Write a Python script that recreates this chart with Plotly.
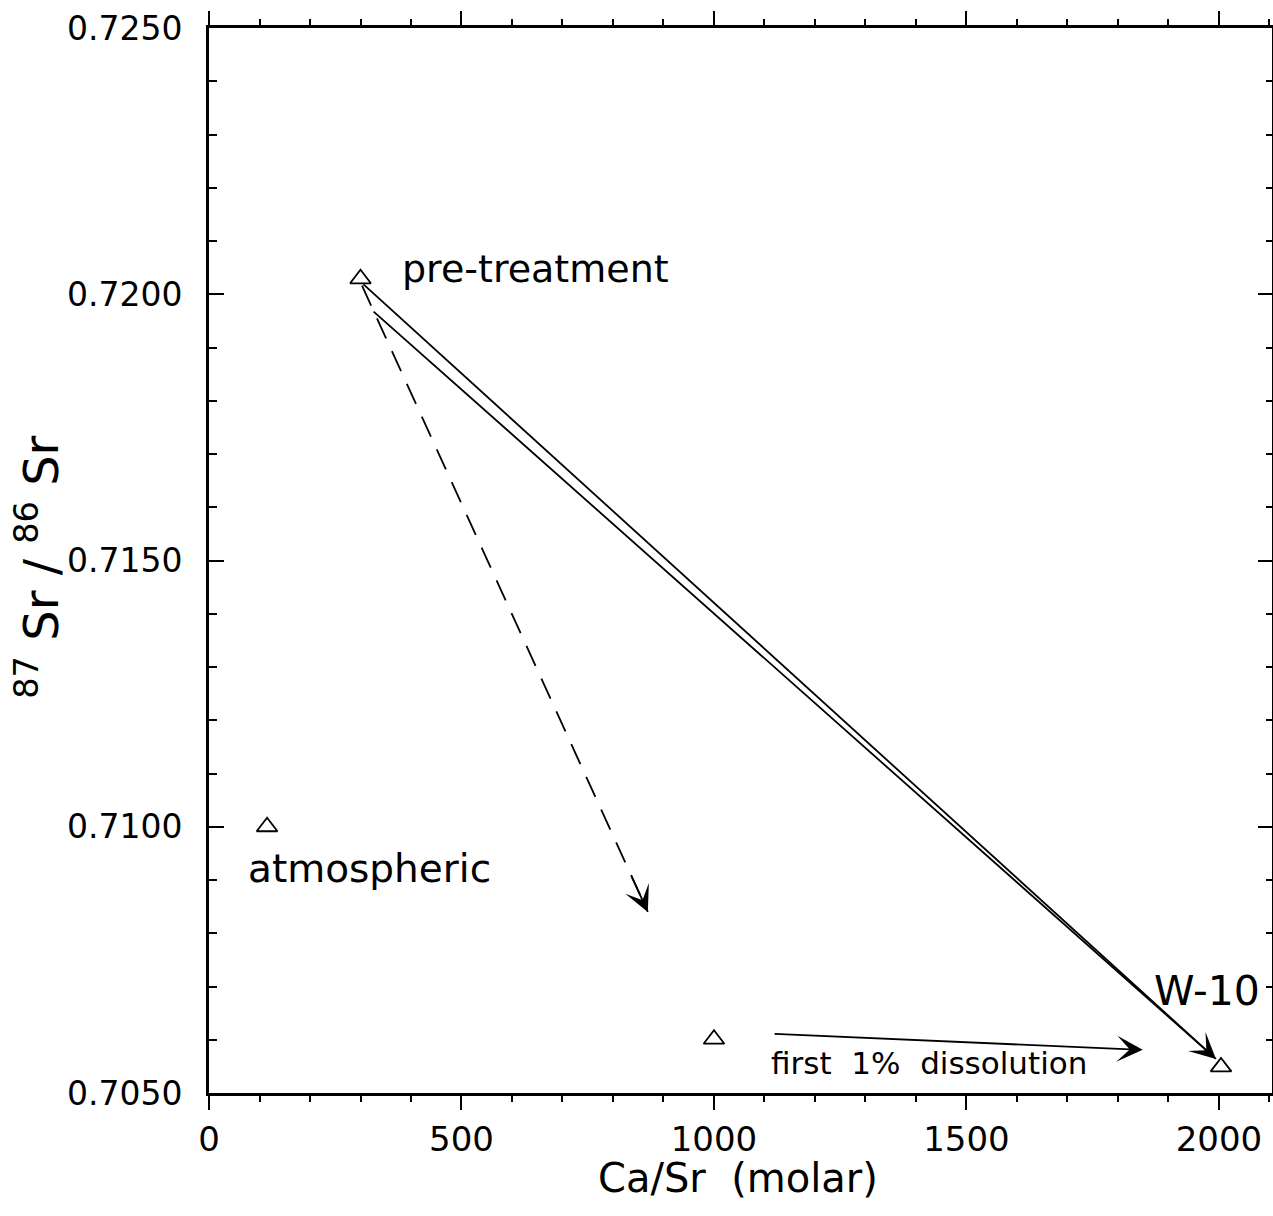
import plotly.graph_objects as go

# ---- data ----
point_names = ["pre-treatment", "atmospheric", "mid", "W-10"]
point_x = [300, 115, 1000, 2004]
point_y = [0.72029, 0.71000, 0.70601, 0.70549]

# solid arrows pre-treatment -> W-10 (start x, start y, end x, end y)
solid_start_x = [303, 323]
solid_start_y = [0.72021, 0.71970]
solid_end_x = [1994, 1994]
solid_end_y = [0.70564, 0.70564]
solid_head = [True, False]

# dashed arrow
dash_x = [303, 869]
dash_y = [0.72016, 0.70840]

# horizontal "first 1% dissolution" arrow
horiz_start = (1117, 0.70611)
horiz_end = (1849, 0.70581)

labels = ["pre-treatment", "atmospheric", "W-10", "first\u00a0\u00a01%\u00a0\u00a0dissolution"]
label_x = [379, 73, 1867, 1109]
label_y = [0.72047, 0.70921, 0.70692, 0.70556]
label_size = [38, 39, 41, 31]

x_ticks = [0, 500, 1000, 1500, 2000]
y_ticks = [0.7050, 0.7100, 0.7150, 0.7200, 0.7250]

FONT = "DejaVu Sans"

fig = go.Figure()

fig.add_trace(go.Scatter(
    x=point_x, y=point_y, mode="markers",
    marker=dict(symbol="triangle-up-open", size=18, color="black",
                line=dict(width=1.8, color="black")),
    showlegend=False, hoverinfo="skip"))

fig.add_trace(go.Scatter(
    x=dash_x, y=dash_y, mode="lines",
    line=dict(color="black", width=1.8, dash="22px,14px"),
    showlegend=False, hoverinfo="skip"))

# invisible trace on right axis so that it renders
fig.add_trace(go.Scatter(x=[point_x[0]], y=[point_y[0]], yaxis="y2",
                         mode="markers", marker=dict(opacity=0),
                         showlegend=False, hoverinfo="skip"))

annotations = []
for sx, sy, ex, ey, head in zip(solid_start_x, solid_start_y, solid_end_x, solid_end_y, solid_head):
    annotations.append(dict(
        x=ex, y=ey, ax=sx, ay=sy, xref="x", yref="y", axref="x", ayref="y",
        text="", showarrow=True, arrowhead=3 if head else 0,
        arrowsize=2.4, arrowwidth=1.8, arrowcolor="black", standoff=0, startstandoff=0))

# arrowhead for the dashed line
fx = dash_x[1] - 0.06 * (dash_x[1] - dash_x[0])
fy = dash_y[1] - 0.06 * (dash_y[1] - dash_y[0])
annotations.append(dict(
    x=dash_x[1], y=dash_y[1], ax=fx, ay=fy, xref="x", yref="y", axref="x", ayref="y",
    text="", showarrow=True, arrowhead=3, arrowsize=2.4, arrowwidth=1.8,
    arrowcolor="black", standoff=0))

annotations.append(dict(
    x=horiz_end[0], y=horiz_end[1], ax=horiz_start[0], ay=horiz_start[1],
    xref="x", yref="y", axref="x", ayref="y",
    text="", showarrow=True, arrowhead=3, arrowsize=2.4, arrowwidth=1.8,
    arrowcolor="black", standoff=0))

for t, lx, ly, fs in zip(labels, label_x, label_y, label_size):
    annotations.append(dict(
        x=lx, y=ly, xref="x", yref="y", text=t, showarrow=False,
        xanchor="left", yanchor="middle",
        font=dict(family=FONT, size=fs, color="black")))

# axis titles
annotations.append(dict(
    x=-0.161, y=0.494, xref="paper", yref="paper",
    text="<sup>87</sup>\u00a0Sr\u00a0/\u00a0<sup>86</sup>\u00a0Sr", textangle=-90, showarrow=False,
    xanchor="center", yanchor="middle",
    font=dict(family=FONT, size=48, color="black")))
annotations.append(dict(
    x=0.4977, y=-0.0798, xref="paper", yref="paper",
    text="Ca/Sr\u00a0\u00a0(molar)", showarrow=False,
    xanchor="center", yanchor="middle",
    font=dict(family=FONT, size=40, color="black")))

fig.update_layout(
    width=1273, height=1216,
    margin=dict(l=209, r=1, t=28, b=123, pad=0),
    paper_bgcolor="white", plot_bgcolor="white",
    showlegend=False,
    annotations=annotations,
    xaxis=dict(
        range=[0, 2105], tickvals=x_ticks, ticktext=[str(v) for v in x_ticks],
        showgrid=False, zeroline=False,
        showline=True, linewidth=3, linecolor="black", mirror="ticks",
        ticks="outside", ticklen=14, tickwidth=2, tickcolor="black",
        minor=dict(dtick=100, tick0=0, ticks="outside", ticklen=6, tickwidth=1.5,
                   tickcolor="black", showgrid=False),
        tickfont=dict(family=FONT, size=34, color="black"),
        ticklabelstandoff=0,
    ),
    yaxis=dict(
        range=[0.7050, 0.7250], tickvals=y_ticks, ticktext=[f"{v:.4f}" for v in y_ticks],
        showgrid=False, zeroline=False,
        showline=True, linewidth=3, linecolor="black", mirror=False,
        ticks="inside", ticklen=15, tickwidth=2, tickcolor="black",
        minor=dict(dtick=0.001, tick0=0.705, ticks="inside", ticklen=8, tickwidth=1.5,
                   tickcolor="black", showgrid=False),
        tickfont=dict(family=FONT, size=33, color="black"),
        ticklabelstandoff=17,
    ),
    yaxis2=dict(
        overlaying="y", side="right", anchor="x",
        range=[0.7050, 0.7250], tickvals=y_ticks, showticklabels=False,
        showgrid=False, zeroline=False,
        showline=True, linewidth=1, linecolor="black",
        ticks="inside", ticklen=14, tickwidth=2, tickcolor="black",
        minor=dict(dtick=0.001, tick0=0.705, ticks="inside", ticklen=6, tickwidth=1.5,
                   tickcolor="black", showgrid=False),
    ),
)

fig.write_html("out.html")
